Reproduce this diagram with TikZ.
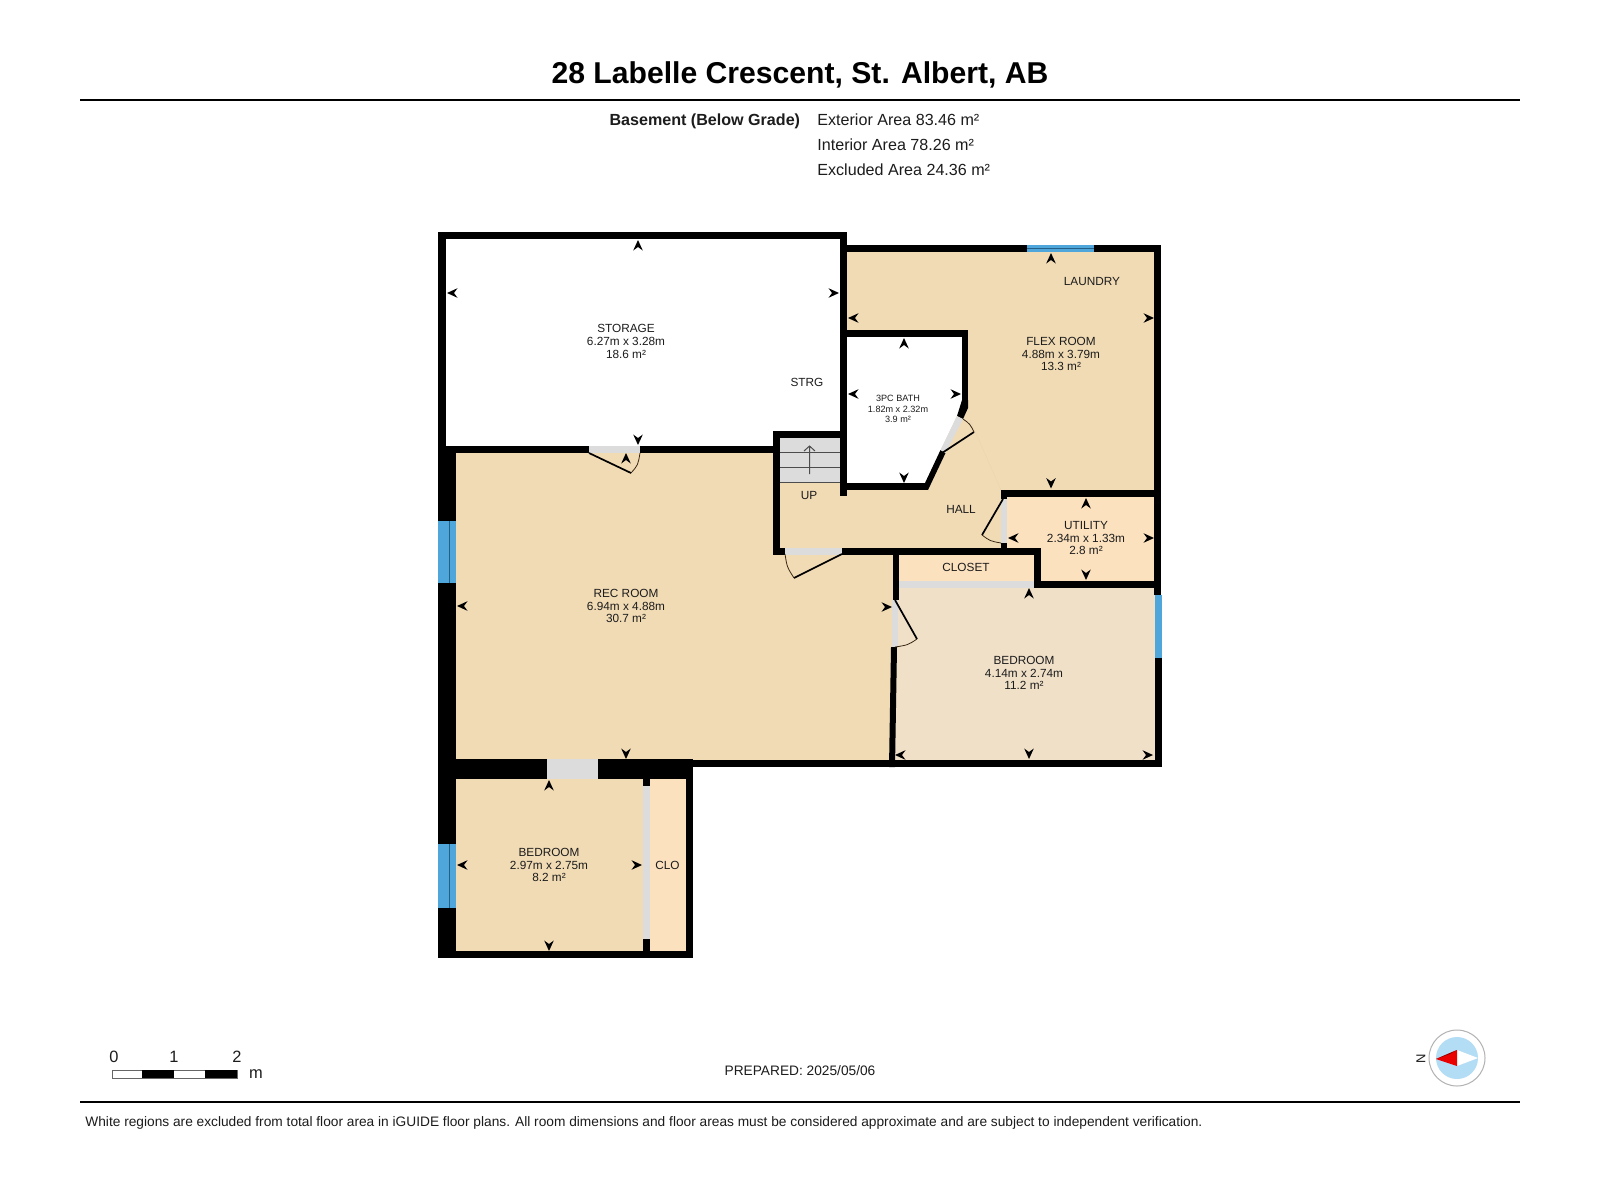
\documentclass[tikz,border=0pt]{standalone}
\usepackage{fontspec}
\setmainfont{Liberation Sans}
\definecolor{floorA}{HTML}{F1DBB5}
\definecolor{floorB}{HTML}{FCE1BF}
\definecolor{floorC}{HTML}{F0E0C8}
\definecolor{doorgray}{HTML}{DCDCDC}
\definecolor{winblue}{HTML}{4FA6DA}
\definecolor{winline}{HTML}{245F88}
\definecolor{compassblue}{HTML}{B3DCF5}
\definecolor{ink}{HTML}{1C1C1C}
\tikzset{
  wall/.style={fill=black,draw=none},
  opening/.style={fill=doorgray,draw=none},
  window/.style={fill=winblue,draw=none},
  winmid/.style={draw=winline,line width=0.55pt},
  leaf/.style={draw=black,line width=0.85pt},
  swing/.style={draw=black!70!brown,line width=0.4pt},
  room/.style={inner sep=0pt,align=center,text=ink,font=\fontsize{5.9}{6.35}\selectfont},
  smallroom/.style={inner sep=0pt,align=center,text=ink,font=\fontsize{4.55}{5.1}\selectfont},
  headtext/.style={inner sep=0pt,text=ink,font=\fontsize{8.05}{9}\selectfont},
  scaletext/.style={inner sep=0pt,text=ink,font=\fontsize{8.2}{9}\selectfont},
  dimmark/.pic={\fill[black] (0,0) -- (-10.5,-4.8) -- (-7,0) -- (-10.5,4.8) -- cycle;},
}
\newcommand{\markR}[2]{\pic at (#1,#2) {dimmark};}
\newcommand{\markL}[2]{\pic[rotate=180] at (#1,#2) {dimmark};}
\newcommand{\markU}[2]{\pic[rotate=90] at (#1,#2) {dimmark};}
\newcommand{\markD}[2]{\pic[rotate=-90] at (#1,#2) {dimmark};}
\begin{document}
\begin{tikzpicture}[x=0.5pt,y=-0.5pt]
\useasboundingbox (0,0) rectangle (1600,1200);
\fill[white] (0,0) rectangle (1600,1200);

% floors
\fill[floorA] (445,452) rectangle (897,760);
\fill[floorA] (847,250) rectangle (1156,550);
\fill[floorA] (778,436) rectangle (850,550);
\fill[floorC] (894,586) rectangle (1156,760);
\fill[floorB] (1005,495) rectangle (1156,583);
\fill[floorB] (897,553) rectangle (1036,583);
\fill[floorA] (454,777) rectangle (645,953);
\fill[floorB] (648,777) rectangle (688,953);
\draw[floorA!97!black,line width=0.15pt] (970,420) -- (1001,490);

% bath
\fill[white] (847,337) -- (962,337) -- (962,405) -- (925,483) -- (847,483) -- cycle;

% stairs
\fill[doorgray] (780,438) rectangle (840,482);
\draw[black!70,line width=0.5pt] (780,452) -- (840,452) (780,467) -- (840,467) (780,482) -- (840,482);
\draw[black!70,line width=0.5pt] (809.5,474) -- (809.5,446) (804,451) -- (809.5,446) -- (815,451);

% walls: storage
\fill[wall] (438,232) rectangle (847,239);
\fill[wall] (438,232) rectangle (446,453);
\fill[wall] (438,446) rectangle (589,453);
\fill[wall] (640,446) rectangle (773,453);
\fill[wall] (840,232) rectangle (847,496);
% walls: left side
\fill[wall] (438,453) rectangle (456,521);
\fill[wall] (438,583) rectangle (456,844);
\fill[wall] (438,908) rectangle (456,958);
% walls: lower bedroom
\fill[wall] (456,759) rectangle (547,779);
\fill[wall] (598,759) rectangle (693,779);
\fill[wall] (438,951) rectangle (693,958);
\fill[wall] (686,759) rectangle (693,958);
\fill[wall] (643,779) rectangle (650,786);
\fill[wall] (643,939) rectangle (650,951);
% walls: bottom run
\fill[wall] (693,759.5) rectangle (1161.5,767);
% walls: stairs and hall
\fill[wall] (773,431) rectangle (780,554.5);
\fill[wall] (773,431) rectangle (847,438);
\fill[wall] (773,547.5) rectangle (785,554.5);
\fill[wall] (842,547.5) rectangle (1041,554.5);
% walls: flex room
\fill[wall] (847,245) rectangle (1027,252);
\fill[wall] (1094,245) rectangle (1161,252);
\fill[wall] (1154,245) rectangle (1161,595);
\fill[wall] (1154.5,658) rectangle (1161.5,767);
% walls: bath
\fill[wall] (847,330) rectangle (968,337);
\fill[wall] (962,330) rectangle (968,405);
\fill[wall] (962,400) -- (968,400) -- (968,408) -- (963,419) -- (957,416) -- cycle;
\fill[wall] (940.5,450) -- (945.5,453) -- (928,490) -- (925,483) -- cycle;
\fill[wall] (847,483) rectangle (928,490);
% walls: utility
\fill[wall] (1001,490) rectangle (1161,497);
\fill[wall] (1001,490) rectangle (1007,499);
\fill[wall] (1001,543) rectangle (1007,550);
\fill[wall] (1034,547.5) rectangle (1041,588);
\fill[wall] (1034,581) rectangle (1161,588);
% walls: closet and bedroom
\fill[wall] (893,547.5) rectangle (899,600);
\fill[wall] (891,647) -- (897,647) -- (895,767) -- (889,767) -- cycle;

% openings
\fill[opening] (589,446) rectangle (640,453);
\fill[opening] (785,547.5) rectangle (842,554.5);
\fill[opening] (547,759) rectangle (598,779);
\fill[opening] (643,786) rectangle (650,939);
\fill[opening] (899,581) rectangle (1034,588);
\fill[opening] (892,600) rectangle (897.5,647);
\fill[opening] (1001,499) rectangle (1007,543);
\fill[opening] (957,416) -- (963,419) -- (945.5,453) -- (940.5,450) -- cycle;

% door leaves
\draw[leaf] (589,453) -- (631,473);
\draw[swing] (631,473) .. controls (638,465) .. (640,453);
\draw[leaf] (842,554) -- (794,578);
\draw[swing] (794,578) .. controls (787,567) .. (785,554);
\draw[leaf] (942,453) -- (974,432);
\draw[swing] (974,432) .. controls (970,424) .. (963,419);
\draw[leaf] (1003,499) -- (982,535);
\draw[swing] (982,535) .. controls (990,541) .. (1001,543);
\draw[leaf] (895,600) -- (917,639);
\draw[swing] (917,639) .. controls (908,645) .. (895,647);

% windows
\fill[window] (438,521) rectangle (456,583);
\draw[winmid] (449.5,521) -- (449.5,583);
\fill[window] (438,844) rectangle (456,908);
\draw[winmid] (449.5,844) -- (449.5,908);
\fill[window] (1027,245) rectangle (1094,252);
\draw[winmid] (1027,248.5) -- (1094,248.5);
\fill[window] (1154.5,595) rectangle (1161.5,658);

% dimension marks
\markU{638}{240} \markL{447}{293} \markR{839}{293} \markD{638}{445}
\markL{848}{318} \markL{848}{394} \markU{626}{453}
\markU{1051}{253} \markR{1154}{318} \markD{1051}{488.5}
\markU{904}{338} \markR{961}{394} \markD{904}{483}
\markU{1086}{498} \markL{1008}{538} \markR{1154}{538} \markD{1086}{580}
\markL{457}{606} \markD{626}{759} \markR{892}{607}
\markU{549}{780} \markL{457}{865} \markR{642}{865} \markD{549}{951}
\markU{1029}{588} \markD{1029}{759} \markL{895}{755} \markR{1153}{755}

% room labels
\node[room] (storage) at (626,341.5) {STORAGE\\6.27m x 3.28m\\18.6 m²};
\node[room] (strg) at (807,382) {STRG};
\node[room] (up) at (809,495) {UP};
\node[room] (flex) at (1061,354) {FLEX ROOM\\4.88m x 3.79m\\13.3 m²};
\node[room] (laundry) at (1092,281) {LAUNDRY};
\node[smallroom] (bath) at (898,409) {3PC BATH\\1.82m x 2.32m\\3.9 m²};
\node[room] (hall) at (961,509) {HALL};
\node[room] (utility) at (1086,538) {UTILITY\\2.34m x 1.33m\\2.8 m²};
\node[room] (closet) at (966,567) {CLOSET};
\node[room] (rec) at (626,606) {REC ROOM\\6.94m x 4.88m\\30.7 m²};
\node[room] (bedA) at (549,865) {BEDROOM\\2.97m x 2.75m\\8.2 m²};
\node[room] (clo) at (667.5,865) {CLO};
\node[room] (bedB) at (1024,673) {BEDROOM\\4.14m x 2.74m\\11.2 m²};

% header
\node[inner sep=0pt,text=black,font=\bfseries\fontsize{15.07}{17}\selectfont] (title) at (800,74.5) {28 Labelle Crescent, St. Albert, AB};
\draw[black,line width=1.4pt] (80,100) -- (1520,100);
\node[headtext,anchor=east,font=\bfseries\fontsize{8.05}{9}\selectfont] (level) at (800.5,121) {Basement (Below Grade)};
\node[headtext,anchor=west] (ext) at (817,119.5) {Exterior Area 83.46 m²};
\node[headtext,anchor=west] (int) at (817,144.5) {Interior Area 78.26 m²};
\node[headtext,anchor=west] (exc) at (817,169.5) {Excluded Area 24.36 m²};

% scale bar
\draw[black!60,fill=white,line width=0.4pt] (112,1070) rectangle (237,1078);
\fill[black] (142,1070) rectangle (174,1078);
\fill[black] (205,1070) rectangle (237,1078);
\node[scaletext] (s0) at (114,1057) {0};
\node[scaletext] (s1) at (174,1057) {1};
\node[scaletext] (s2) at (237,1057) {2};
\node[scaletext] (sm) at (256,1074.5) {m};

% footer
\node[inner sep=0pt,text=ink,font=\fontsize{6.86}{9}\selectfont] (prepared) at (800,1071) {PREPARED: 2025/05/06};
\draw[black,line width=1.4pt] (80,1102) -- (1520,1102);
\node[inner sep=0pt,anchor=west,text=ink,font=\fontsize{6.86}{9}\selectfont] (note) at (85,1122.5) {White regions are excluded from total floor area in iGUIDE floor plans. All room dimensions and floor areas must be considered approximate and are subject to independent verification.};

% compass
\draw[black!30,fill=white,line width=0.5pt] (1457,1058) circle (28);
\fill[compassblue] (1457,1058) circle (21);
\fill[white] (1478,1058) -- (1457,1050) -- (1457,1066) -- cycle;
\fill[red!92!black] (1436,1059) -- (1457,1050) -- (1457,1066) -- cycle;
\fill[red!55!black] (1436,1059) -- (1457,1050) -- (1450,1054) -- cycle;
\node[inner sep=0pt,rotate=90,text=ink,font=\fontsize{6.5}{8}\selectfont] (north) at (1421,1059) {N};
\end{tikzpicture}
\end{document}
